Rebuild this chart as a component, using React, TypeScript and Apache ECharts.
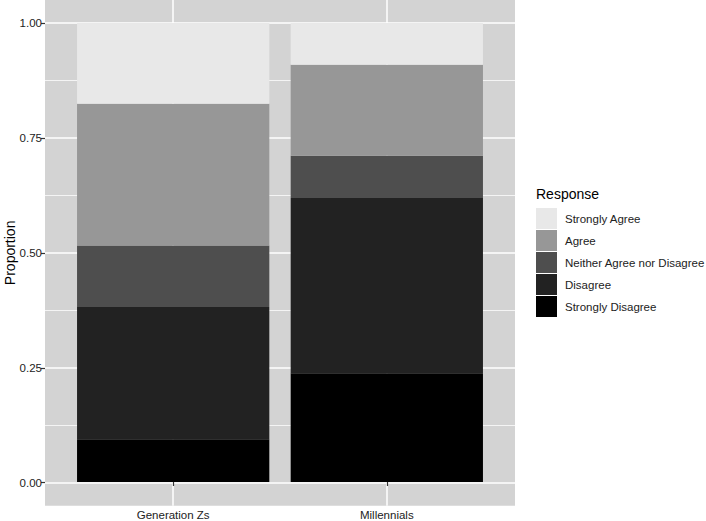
import React, { useEffect, useRef } from "react";
import * as echarts from "echarts";

const categories = ["Generation Zs", "Millennials"];
const responses = ["Strongly Agree", "Agree", "Neither Agree nor Disagree", "Disagree", "Strongly Disagree"];
const stronglyDisagree = [0.093, 0.237];
const disagree = [0.288, 0.382];
const neither = [0.134, 0.092];
const agree = [0.309, 0.198];
const stronglyAgree = [0.176, 0.091];
const yTicks = [0, 0.25, 0.5, 0.75, 1];

const colors: Record<string, string> = {
  "Strongly Agree": "#e8e8e8",
  "Agree": "#979797",
  "Neither Agree nor Disagree": "#4e4e4e",
  "Disagree": "#222222",
  "Strongly Disagree": "#000000",
};

const FONT = "Liberation Sans, Arial, Helvetica, sans-serif";

export default function App() {
  const ref = useRef<HTMLDivElement>(null);
  useEffect(() => {
    if (!ref.current) return;
    const chart = echarts.init(ref.current, null, { renderer: "svg" });
    const panelLeft = 45, panelWidth = 470, panelTop = 0, panelHeight = 505.7;
    const dataTop = 23, dataHeight = 459.7;
    const band = panelWidth / (categories.length + 0.2);
    const stackSeries = [
      ["Strongly Disagree", stronglyDisagree],
      ["Disagree", disagree],
      ["Neither Agree nor Disagree", neither],
      ["Agree", agree],
      ["Strongly Agree", stronglyAgree],
    ] as [string, number[]][];
    const option: any = {
      animation: false,
      grid: [
        { left: panelLeft, top: panelTop, width: panelWidth, height: panelHeight, show: true, backgroundColor: "#d3d3d3", borderWidth: 0 },
        { left: panelLeft, top: dataTop, width: panelWidth, height: dataHeight },
        { left: panelLeft + 0.6 * band, top: panelTop, width: band * (categories.length - 1), height: panelHeight },
        { left: panelLeft + 0.1 * band, top: dataTop, width: band * categories.length, height: dataHeight },
      ],
      xAxis: [
        { gridIndex: 0, type: "value", min: 0, max: 1, show: false },
        { gridIndex: 1, type: "value", min: 0, max: 1, show: false },
        {
          gridIndex: 2, type: "value", min: 0, max: 1, interval: 1,
          axisLine: { show: false }, axisTick: { show: false }, axisLabel: { show: false },
          splitLine: { show: true, lineStyle: { color: "#ffffff", width: 1.5 } },
        },
        {
          gridIndex: 3, type: "category", data: categories, offset: 23,
          axisLine: { show: false },
          axisTick: { show: true, alignWithLabel: true, length: 4, lineStyle: { color: "#333333", width: 1.2 } },
          axisLabel: { color: "#222222", fontSize: 11.5, fontFamily: FONT, margin: 4 },
          splitLine: { show: false },
        },
      ],
      yAxis: [
        { gridIndex: 0, type: "value", min: 0, max: 1, show: false },
        {
          gridIndex: 1, type: "value", min: 0, max: 1, interval: 0.25,
          axisLine: { show: false },
          axisTick: { show: true, length: 4, lineStyle: { color: "#333333", width: 1.2 } },
          axisLabel: {
            color: "#222222", fontSize: 11.5, fontFamily: FONT, margin: 3,
            formatter: (v: number) => {
              const t = yTicks.find((x) => Math.abs(x - v) < 1e-9);
              return t === undefined ? "" : t.toFixed(2);
            },
          },
          splitLine: { show: true, lineStyle: { color: "#ffffff", width: 1.5 } },
          minorTick: { show: false, splitNumber: 2 },
          minorSplitLine: { show: true, lineStyle: { color: "#ffffff", width: 0.75 } },
        },
        { gridIndex: 2, type: "value", min: 0, max: 1, show: false },
        { gridIndex: 3, type: "value", min: 0, max: 1, show: false },
      ],
      legend: {
        orient: "vertical",
        left: 531,
        top: 203,
        itemWidth: 21,
        itemHeight: 21,
        itemGap: 1,
        icon: "rect",
        selectedMode: false,
        data: responses,
        textStyle: { color: "#222222", fontSize: 11.5, fontFamily: FONT, padding: [0, 0, 0, 3] },
      },
      graphic: [
        {
          type: "text", left: 536, top: 187,
          style: { text: "Response", fontSize: 14, fontFamily: FONT, fill: "#000000" },
        },
        {
          type: "text", x: 10, y: dataTop + dataHeight / 2, rotation: Math.PI / 2,
          style: { text: "Proportion", fontSize: 14, fontFamily: FONT, fill: "#000000", textAlign: "center", textVerticalAlign: "middle" },
        },
      ],
      series: stackSeries.map(([name, vals]) => ({
        name,
        type: "bar",
        stack: "total",
        xAxisIndex: 3,
        yAxisIndex: 3,
        barCategoryGap: "10%",
        data: vals,
        itemStyle: { color: colors[name] },
        emphasis: { disabled: true },
      })),
    };
    chart.setOption(option);
    return () => chart.dispose();
  }, []);
  return (
    <div
      ref={ref}
      style={{ position: "absolute", left: 0, top: 0, width: 706, height: 521, background: "#ffffff" }}
    />
  );
}
